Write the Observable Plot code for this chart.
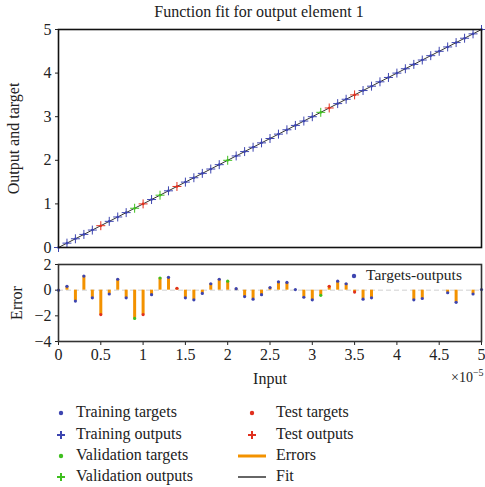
<!DOCTYPE html>
<html>
<head>
<meta charset="utf-8">
<script src="https://cdn.jsdelivr.net/npm/d3@7"></script>
<script src="https://cdn.jsdelivr.net/npm/@observablehq/plot@0.6"></script>
<style>
  html, body { margin: 0; padding: 0; background: white; }
  #wrap { position: relative; width: 485px; height: 487px; font-family: "Liberation Serif", serif; color: #222; overflow: hidden; }
  .abs { position: absolute; white-space: nowrap; }
  #title { left: 0; width: 518px; top: 3px; text-align: center; font-size: 16px; }
  #topPlot { position: absolute; left: 0; top: 0; }
  #errPlot { position: absolute; left: 0; top: 250px; }
  .leg { font-size: 16px; line-height: 18px; }
  sup { font-size: 10px; }
</style>
</head>
<body>
<div id="wrap">
  <div id="topPlot"></div>
  <div id="errPlot"></div>
  <div id="title" class="abs">Function fit for output element 1</div>
  <div id="legend"></div>
</div>
<script>
// ---- data (input in units of 1e-5) ----
const inputs  = [0,0.1,0.2,0.3,0.4,0.5,0.6,0.7,0.8,0.9,1,1.1,1.2,1.3,1.4,1.5,1.6,1.7,1.8,1.9,2,2.1,2.2,2.3,2.4,2.5,2.6,2.7,2.8,2.9,3,3.1,3.2,3.3,3.4,3.5,3.6,3.7,3.8,3.9,4,4.1,4.2,4.3,4.4,4.5,4.6,4.7,4.8,4.9,5];
const targets = [0,0.1,0.2,0.3,0.4,0.5,0.6,0.7,0.8,0.9,1,1.1,1.2,1.3,1.4,1.5,1.6,1.7,1.8,1.9,2,2.1,2.2,2.3,2.4,2.5,2.6,2.7,2.8,2.9,3,3.1,3.2,3.3,3.4,3.5,3.6,3.7,3.8,3.9,4,4.1,4.2,4.3,4.4,4.5,4.6,4.7,4.8,4.9,5];
const outputs = [0,0.1,0.2,0.3,0.4,0.5,0.6,0.7,0.8,0.9,1,1.1,1.2,1.3,1.4,1.5,1.6,1.7,1.8,1.9,2,2.1,2.2,2.3,2.4,2.5,2.6,2.7,2.8,2.9,3,3.1,3.2,3.3,3.4,3.5,3.6,3.7,3.8,3.9,4,4.1,4.2,4.3,4.4,4.5,4.6,4.7,4.8,4.9,5];
const splits  = ["train","train","train","train","train","test","train","train","train","val",
                 "test","train","val","train","test","train","train","train","train","train",
                 "val","train","train","train","train","train","train","train","train","train",
                 "train","val","test","train","train","test","train","train","train","train",
                 "train","train","train","train","train","train","train","train","train","train","train"];
const errors  = [0,0.3,-0.85,1.1,-0.6,-1.9,-0.3,0.85,-0.6,-2.2,
                 -1.9,-0.35,0.95,1.0,0.15,-0.6,-0.75,-0.25,0.5,0.85,
                 0.7,0.12,-0.5,-0.7,-0.35,0.2,0.65,0.6,0.05,-0.55,
                 -0.75,-0.4,0.3,0.7,0.5,-0.15,-0.7,-0.6,null,null,
                 null,null,-0.75,-0.65,null,null,-0.2,-0.95,null,-0.3,0.05];
const yTicksTop = [0,1,2,3,4,5];
const yTicksErr = [-4,-2,0,2];
const xTicks = [0,0.5,1,1.5,2,2.5,3,3.5,4,4.5,5];

const COLORS = {train: "#3d45b0", val: "#3fbf1f", test: "#e0301e"};
const ORANGE = "#f39200";
const colorScale = {domain: ["train","val","test"], range: [COLORS.train, COLORS.val, COLORS.test]};

const rows = inputs.map((x, i) => ({input: x, target: targets[i], output: outputs[i], split: splits[i], error: errors[i]}));
const errRows = rows.filter(d => d.error !== null);

const plotStyle = {fontFamily: "Liberation Serif, serif", fontSize: "16px", color: "#222", background: "transparent", overflow: "visible"};
const fmt = d3.format("~g");

const topChart = Plot.plot({
  width: 485, height: 256,
  marginLeft: 58, marginRight: 4, marginTop: 29, marginBottom: 9,
  style: plotStyle,
  x: {domain: [0, 5], axis: null},
  y: {domain: [0, 5]},
  color: colorScale,
  marks: [
    Plot.axisY({ticks: yTicksTop, tickSize: 3, tickPadding: 4, tickFormat: fmt,
      label: "Output and target", labelAnchor: "center", labelArrow: "none", labelOffset: 51, fontSize: 16}),
    Plot.line(rows, {x: "input", y: "output", stroke: "black", strokeWidth: 0.8}),
    Plot.dot(rows, {x: "input", y: "target", fill: "split", r: 1.3}),
    Plot.dot(rows, {x: "input", y: "output", symbol: "plus", stroke: "split", r: 3, strokeWidth: 1}),
    Plot.frame({stroke: "#111", strokeWidth: 1.6})
  ]
});
document.getElementById("topPlot").appendChild(topChart);

const errChart = Plot.plot({
  width: 485, height: 140,
  marginLeft: 58, marginRight: 4, marginTop: 14, marginBottom: 49,
  style: plotStyle,
  x: {domain: [0, 5]},
  y: {domain: [-4, 2]},
  color: colorScale,
  marks: [
    Plot.axisY({ticks: yTicksErr, tickSize: 3, tickPadding: 4, tickFormat: fmt,
      label: "Error", labelAnchor: "center", labelArrow: "none", labelOffset: 48, fontSize: 16}),
    Plot.axisX({ticks: xTicks, tickSize: 4, tickPadding: 3, tickFormat: fmt,
      label: "Input", labelAnchor: "center", labelArrow: "none", labelOffset: 42, fontSize: 16}),
    Plot.ruleY([0], {stroke: "#d0d0d0", strokeDasharray: "5,3", strokeWidth: 1}),
    Plot.ruleX(errRows, {x: "input", y1: 0, y2: "error", stroke: ORANGE, strokeWidth: 3}),
    Plot.dot(errRows, {x: "input", y: "error", fill: "split", r: 1.6}),
    Plot.frame({stroke: "#333", strokeWidth: 1.6})
  ]
});
document.getElementById("errPlot").appendChild(errChart);

// ---- legends (HTML) ----
const legendItems = [
  {label: "Training targets",   kind: "dot",  color: COLORS.train, col: 0, row: 0},
  {label: "Training outputs",   kind: "plus", color: COLORS.train, col: 0, row: 1},
  {label: "Validation targets", kind: "dot",  color: COLORS.val,   col: 0, row: 2},
  {label: "Validation outputs", kind: "plus", color: COLORS.val,   col: 0, row: 3},
  {label: "Test targets",       kind: "dot",  color: COLORS.test,  col: 1, row: 0},
  {label: "Test outputs",       kind: "plus", color: COLORS.test,  col: 1, row: 1},
  {label: "Errors",             kind: "bar",  color: ORANGE,       col: 1, row: 2},
  {label: "Fit",                kind: "line", color: "black",      col: 1, row: 3}
];
const colSym = [61, 252], colText = [76, 276], rowY = [413, 434.5, 455.5, 476.5];
const legend = document.getElementById("legend");
function symSvg(kind, color) {
  if (kind === "dot") return `<svg width="10" height="10"><circle cx="5" cy="5" r="2.2" fill="${color}"/></svg>`;
  if (kind === "plus") return `<svg width="10" height="10"><path d="M1,5H9M5,1V9" stroke="${color}" stroke-width="2"/></svg>`;
  if (kind === "bar") return `<svg width="30" height="10"><line x1="1" x2="29" y1="5" y2="5" stroke="${color}" stroke-width="3"/></svg>`;
  return `<svg width="30" height="10"><line x1="1" x2="29" y1="5" y2="5" stroke="${color}" stroke-width="1.2"/></svg>`;
}
for (const it of legendItems) {
  const wide = it.kind === "bar" || it.kind === "line";
  const s = document.createElement("div");
  s.className = "abs";
  s.style.left = (colSym[it.col] - (wide ? 15 : 5)) + "px";
  s.style.top = (rowY[it.row] - 5) + "px";
  s.style.lineHeight = "0";
  s.innerHTML = symSvg(it.kind, it.color);
  legend.appendChild(s);
  const t = document.createElement("div");
  t.className = "abs leg";
  t.style.left = colText[it.col] + "px";
  t.style.top = (rowY[it.row] - 10) + "px";
  t.textContent = it.label;
  legend.appendChild(t);
}
// in-panel legend for error plot
const tl = document.createElement("div");
tl.className = "abs";
tl.style.left = "349px"; tl.style.top = "271px"; tl.style.lineHeight = "0";
tl.innerHTML = symSvg("dot", COLORS.train);
legend.appendChild(tl);
const tt = document.createElement("div");
tt.className = "abs";
tt.style.left = "366px"; tt.style.top = "266px"; tt.style.fontSize = "15.5px"; tt.style.lineHeight = "18px";
tt.textContent = "Targets-outputs";
legend.appendChild(tt);
// exponent note
const ex = document.createElement("div");
ex.className = "abs";
ex.style.left = "451px"; ex.style.top = "367px"; ex.style.fontSize = "14px";
ex.innerHTML = "×10<sup>−5</sup>";
legend.appendChild(ex);
</script>
</body>
</html>
